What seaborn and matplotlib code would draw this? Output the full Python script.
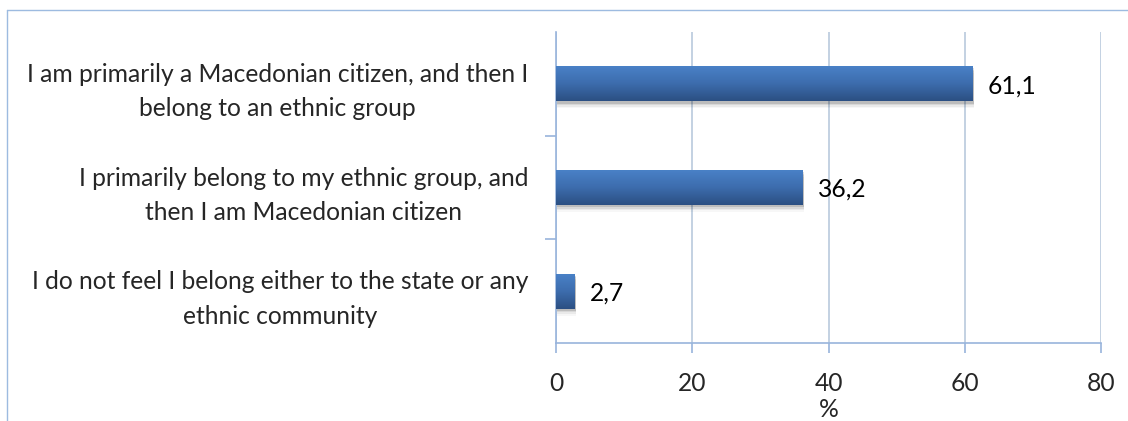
import matplotlib
matplotlib.use("Agg")
import matplotlib.pyplot as plt
import seaborn as sns
import numpy as np
import pandas as pd
from matplotlib.lines import Line2D
from matplotlib.colors import LinearSegmentedColormap

categories = [
    "I am primarily a Macedonian citizen, and then I\nbelong to an ethnic group",
    "I primarily belong to my ethnic group, and\nthen I am Macedonian citizen",
    "I do not feel I belong either to the state or any\nethnic community",
]
values = [61.1, 36.2, 2.7]
value_labels = ["61,1", "36,2", "2,7"]
x_ticks = [0, 20, 40, 60, 80]

sns.set_theme(style="white")
plt.rcParams['font.family'] = ['Lato', 'DejaVu Sans']

FS = 17.7
df = pd.DataFrame({"cat": categories, "val": values})

fig = plt.figure(figsize=(11.28, 4.21), dpi=100)
ax = fig.add_axes([556 / 1128, 1 - 343 / 421, 545 / 1128, (343 - 32) / 421])

sns.barplot(data=df, x="val", y="cat", orient="h", ax=ax, color="#3f72b5",
            width=0.34, saturation=1, zorder=3)

cmap = LinearSegmentedColormap.from_list("g", ["#4a82c8", "#3d6dae", "#2b4f82"])
grad = np.linspace(0, 1, 256).reshape(-1, 1)
for p in list(ax.patches):
    x0, y0 = p.get_x(), p.get_y()
    w, h = p.get_width(), p.get_height()
    # soft shadow
    for k, a in enumerate([0.12, 0.08, 0.05, 0.03]):
        sh = plt.Rectangle((x0 + 0.1, y0 + 0.02 + k * 0.015), w + 0.1, h, color="black",
                           alpha=a, lw=0, zorder=2)
        ax.add_patch(sh)
    p.set_facecolor("none")
    p.set_edgecolor("none")
    im = ax.imshow(grad, extent=[x0, x0 + w, y0 + h, y0], cmap=cmap, aspect="auto",
                   zorder=3.5, origin="upper")
    im.set_clip_path(p)

for i, (v, lab) in enumerate(zip(values, value_labels)):
    ax.text(v + 2.2, i + 0.02, lab, va="center", ha="left", fontsize=FS, color="#000000")

ax.set_xlim(0, 80)
ax.set_ylim(2.5, -0.5)
ax.set_xticks(x_ticks)
ax.set_xticklabels([str(t) for t in x_ticks], fontsize=FS)
ax.set_xlabel("%", fontsize=FS, labelpad=2)
ax.set_ylabel("")

ax.set_yticks([0, 1, 2])
ax.set_yticklabels(categories, fontsize=FS, multialignment="center", linespacing=1.6)
ax.tick_params(axis="y", which="major", length=0, pad=20, left=False)
ax.set_yticks([0.5, 1.5], minor=True)
ax.tick_params(axis="y", which="minor", length=8, color="#98b4dc", width=1.2, left=True)
ax.tick_params(axis="x", length=7, color="#98b4dc", width=1.2, direction="out",
               pad=14, bottom=True)

ax.xaxis.grid(True, color="#b9c9dd", lw=1.2, zorder=0)
ax.yaxis.grid(False)
ax.set_axisbelow(True)
for s in ["top", "right"]:
    ax.spines[s].set_visible(False)
for s in ["left", "bottom"]:
    ax.spines[s].set_color("#98b4dc")
    ax.spines[s].set_linewidth(1.2)

# outer frame
fy = 1 - 10 / 421
fx = 7 / 1128
fig.add_artist(Line2D([fx, 1], [fy, fy], transform=fig.transFigure, color="#9dbbe0", lw=1))
fig.add_artist(Line2D([fx, fx], [0, fy], transform=fig.transFigure, color="#9dbbe0", lw=1))

fig.savefig("out.png", dpi=100)
